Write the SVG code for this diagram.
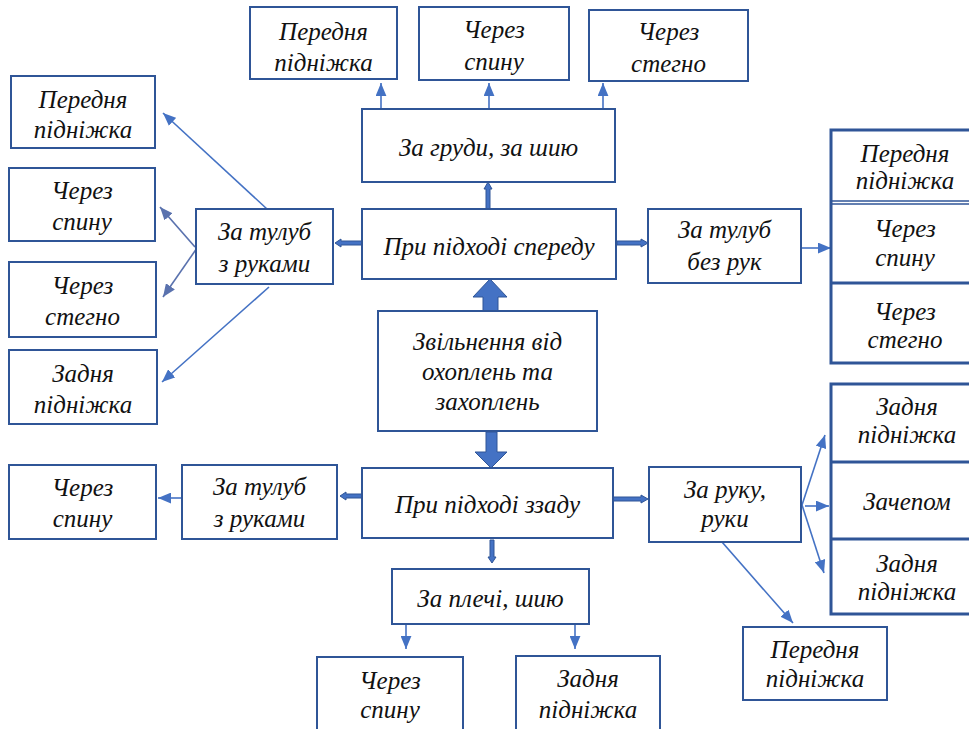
<svg xmlns="http://www.w3.org/2000/svg" width="969" height="729" viewBox="0 0 969 729">
<style>
.b{fill:#fff;stroke:#2F5597;stroke-width:2}
.g{fill:#fff;stroke:#2F5597;stroke-width:3}
.d{stroke:#2F5597;stroke-width:1.5;fill:none}
.l{stroke:#4472C4;stroke-width:1.6;fill:none;marker-end:url(#ah)}
.lg{stroke:#5A72AE;stroke-width:1.6;fill:none;marker-end:url(#ahg)}
.ba{fill:#4472C4;stroke:#2F5597;stroke-width:1}
</style>
<defs>
<marker id="ah" viewBox="0 0 12 10" refX="12" refY="5" markerWidth="13" markerHeight="11" markerUnits="userSpaceOnUse" orient="auto"><path d="M0,0 L12,5 L0,10 z" fill="#4472C4"/></marker>
<marker id="ahg" viewBox="0 0 12 10" refX="12" refY="5" markerWidth="13" markerHeight="11" markerUnits="userSpaceOnUse" orient="auto"><path d="M0,0 L12,5 L0,10 z" fill="#5A72AE"/></marker>
</defs>
<rect width="969" height="729" fill="#fff"/>

<g id="connectors">
<line class="l" x1="381" y1="108" x2="381" y2="83"/>
<line class="l" x1="489" y1="108" x2="489" y2="83"/>
<line class="l" x1="603" y1="108" x2="603" y2="83"/>
<line class="l" x1="267" y1="209" x2="163" y2="113"/>
<line class="lg" x1="195" y1="247" x2="160" y2="207"/>
<line class="lg" x1="197" y1="248" x2="163" y2="297"/>
<line class="l" x1="269" y1="287" x2="162" y2="382"/>
<line class="l" x1="182" y1="498" x2="158" y2="498"/>
<line class="l" x1="801" y1="248" x2="831" y2="248"/>
<line class="l" x1="802" y1="505" x2="825" y2="435"/>
<line class="l" x1="805" y1="506" x2="829" y2="506"/>
<line class="l" x1="802" y1="505" x2="824" y2="573"/>
<line class="l" x1="722" y1="542" x2="793" y2="623"/>
<line class="l" x1="406" y1="624" x2="406" y2="649"/>
<line class="l" x1="575" y1="624" x2="575" y2="649"/>
<polygon class="ba" points="483,311 483,297 473,297 490,279 507,297 498,297 498,311"/>
<polygon class="ba" points="486,432 497,432 497,452 507,452 491,468 475,452 486,452"/>
<polygon class="ba" points="486,209 486,189 484,189 488,182 492,189 490,189 490,209"/>
<polygon class="ba" points="362,241 341,241 341,239 335,243 341,247 341,245 362,245"/>
<polygon class="ba" points="617,241 641,241 641,239 648,243 641,247 641,245 617,245"/>
<polygon class="ba" points="362,494 346,494 346,492 340,496 346,500 346,498 362,498"/>
<polygon class="ba" points="613,497 641,497 641,495 648,499 641,503 641,501 613,501"/>
<polygon class="ba" points="490,540 490,557 488,557 492,563 496,557 494,557 494,540"/>
</g>

<g id="nodes" font-family="'Liberation Serif', 'DejaVu Serif', serif" font-style="italic" font-size="25" fill="#111" text-anchor="middle">
<g id="n-top-perednia"><rect class="b" x="250" y="7" width="147" height="72"/><text x="323.5" y="40">Передня</text><text x="323.5" y="71">підніжка</text></g>
<g id="n-top-spynu"><rect class="b" x="419" y="7" width="150" height="73"/><text x="494" y="38">Через</text><text x="494" y="70">спину</text></g>
<g id="n-top-stehno"><rect class="b" x="589" y="10" width="159" height="71"/><text x="668.5" y="40">Через</text><text x="668.5" y="72">стегно</text></g>
<g id="n-hrudy"><rect class="b" x="362" y="109" width="253" height="73"/><text x="488.5" y="156">За груди, за шию</text></g>
<g id="n-spereduy"><rect class="b" x="362" y="209" width="254" height="70"/><text x="489" y="255">При підході спереду</text></g>
<g id="n-bez-ruk"><rect class="b" x="648" y="209" width="153" height="74"/><text x="724.5" y="238">За тулуб</text><text x="724.5" y="270">без рук</text></g>
<g id="n-right-top-group"><rect class="g" x="831" y="130" width="150" height="233"/><line class="d" x1="831" y1="201" x2="981" y2="201"/><line class="d" x1="831" y1="204" x2="981" y2="204"/><line class="g" x1="831" y1="283" x2="981" y2="283"/>
<text x="905" y="162">Передня</text><text x="905" y="189">підніжка</text>
<text x="905" y="237">Через</text><text x="905" y="266">спину</text>
<text x="905" y="320">Через</text><text x="905" y="348">стегно</text></g>
<g id="n-left-perednia"><rect class="b" x="11" y="76" width="144" height="72"/><text x="83" y="108">Передня</text><text x="83" y="138">підніжка</text></g>
<g id="n-left-spynu"><rect class="b" x="9" y="168" width="146" height="73"/><text x="82" y="199">Через</text><text x="82" y="230">спину</text></g>
<g id="n-left-stehno"><rect class="b" x="9" y="262" width="147" height="75"/><text x="82.5" y="294">Через</text><text x="82.5" y="325">стегно</text></g>
<g id="n-left-zadnia"><rect class="b" x="9" y="350" width="148" height="74"/><text x="83" y="382">Задня</text><text x="83" y="413">підніжка</text></g>
<g id="n-tulub-top"><rect class="b" x="196" y="209" width="137" height="75"/><text x="264.5" y="240">За тулуб</text><text x="264.5" y="272">з руками</text></g>
<g id="n-root"><rect class="b" x="378" y="311" width="219" height="120"/><text x="487.5" y="350">Звільнення від</text><text x="487.5" y="380">охоплень та</text><text x="487.5" y="410">захоплень</text></g>
<g id="n-zzadu"><rect class="b" x="362" y="468" width="251" height="70"/><text x="487.5" y="513">При підході ззаду</text></g>
<g id="n-tulub-bottom"><rect class="b" x="182" y="465" width="155" height="74"/><text x="259.5" y="495">За тулуб</text><text x="259.5" y="527">з руками</text></g>
<g id="n-bl-spynu"><rect class="b" x="9" y="465" width="147" height="74"/><text x="82.5" y="496">Через</text><text x="82.5" y="527">спину</text></g>
<g id="n-ruku"><rect class="b" x="649" y="467" width="152" height="75"/><text x="725" y="498">За руку,</text><text x="725" y="527">руки</text></g>
<g id="n-right-bottom-group"><rect class="g" x="831" y="384" width="150" height="230"/><line class="g" x1="831" y1="462" x2="981" y2="462"/><line class="g" x1="831" y1="539" x2="981" y2="539"/>
<text x="907" y="415">Задня</text><text x="907" y="443">підніжка</text>
<text x="907" y="510">Зачепом</text>
<text x="907" y="572">Задня</text><text x="907" y="600">підніжка</text></g>
<g id="n-br-perednia"><rect class="b" x="743" y="627" width="144" height="73"/><text x="815" y="658">Передня</text><text x="815" y="687">підніжка</text></g>
<g id="n-plechi"><rect class="b" x="392" y="569" width="197" height="55"/><text x="490.5" y="607">За плечі, шию</text></g>
<g id="n-b-spynu"><rect class="b" x="317" y="657" width="146" height="80"/><text x="390" y="689">Через</text><text x="390" y="718">спину</text></g>
<g id="n-b-zadnia"><rect class="b" x="516" y="656" width="144" height="81"/><text x="588" y="687">Задня</text><text x="588" y="718">підніжка</text></g>
</g>
</svg>
